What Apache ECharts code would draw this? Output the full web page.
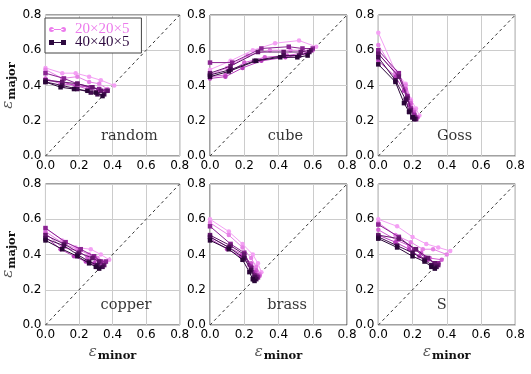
<!DOCTYPE html>
<html><head><meta charset="utf-8">
<script src="https://cdn.jsdelivr.net/npm/echarts@6/dist/echarts.min.js"></script>
<style>html,body{margin:0;padding:0;background:#fff}#c{width:531px;height:374px}</style>
</head><body><div id="c"></div>
<script>
// ---- data ----
const ticks = [0.0, 0.2, 0.4, 0.6, 0.8];
const panels = ['random', 'cube', 'Goss', 'copper', 'brass', 'S'];
const legendNames = ['20×20×5', '40×40×5'];

const random20 = [
  [[0,0.50],[0.10,0.47],[0.18,0.47],[0.26,0.45],[0.33,0.43],[0.41,0.40]],
  [[0,0.49],[0.10,0.44],[0.19,0.45],[0.26,0.42],[0.32,0.41],[0.37,0.38]],
  [[0,0.44],[0.09,0.41],[0.18,0.40],[0.25,0.38],[0.31,0.37],[0.36,0.37]],
  [[0,0.43],[0.10,0.42],[0.18,0.40],[0.27,0.39],[0.32,0.38],[0.37,0.37]]
];
const random40 = [
  [[0,0.47],[0.11,0.44],[0.19,0.41],[0.27,0.39],[0.32,0.38],[0.36,0.37]],
  [[0,0.43],[0.10,0.42],[0.19,0.41],[0.28,0.39],[0.33,0.37],[0.37,0.37]],
  [[0,0.42],[0.10,0.40],[0.19,0.38],[0.27,0.36],[0.31,0.35],[0.35,0.35]],
  [[0,0.42],[0.09,0.39],[0.17,0.38],[0.25,0.37],[0.30,0.36],[0.34,0.34]]
];
const cube20 = [
  [[0,0.49],[0.12,0.54],[0.25,0.60],[0.38,0.64],[0.52,0.655],[0.62,0.62]],
  [[0,0.46],[0.10,0.50],[0.22,0.57],[0.35,0.60],[0.47,0.60],[0.60,0.60]],
  [[0,0.45],[0.09,0.46],[0.20,0.53],[0.32,0.56],[0.45,0.57],[0.58,0.59]],
  [[0,0.44],[0.09,0.45],[0.19,0.50],[0.30,0.54],[0.44,0.56],[0.57,0.58]]
];
const cube40 = [
  [[0,0.53],[0.13,0.53],[0.30,0.61],[0.46,0.62],[0.54,0.61],[0.60,0.61]],
  [[0,0.47],[0.12,0.51],[0.28,0.59],[0.43,0.59],[0.53,0.59],[0.59,0.60]],
  [[0,0.46],[0.12,0.49],[0.26,0.54],[0.43,0.57],[0.52,0.57],[0.58,0.59]],
  [[0,0.45],[0.11,0.48],[0.27,0.54],[0.41,0.56],[0.51,0.56],[0.57,0.57]]
];
const goss20 = [
  [[0,0.70],[0.10,0.48],[0.16,0.41],[0.19,0.32],[0.22,0.27],[0.24,0.23]],
  [[0,0.63],[0.10,0.47],[0.16,0.40],[0.19,0.31],[0.21,0.26],[0.23,0.22]],
  [[0,0.58],[0.11,0.46],[0.16,0.38],[0.19,0.30],[0.21,0.25],[0.23,0.22]],
  [[0,0.54],[0.10,0.45],[0.15,0.37],[0.18,0.29],[0.21,0.24],[0.22,0.22]]
];
const goss40 = [
  [[0,0.60],[0.12,0.47],[0.17,0.34],[0.19,0.27],[0.21,0.23],[0.22,0.21]],
  [[0,0.58],[0.12,0.45],[0.17,0.33],[0.19,0.26],[0.21,0.22],[0.22,0.21]],
  [[0,0.56],[0.10,0.43],[0.16,0.32],[0.18,0.25],[0.20,0.22],[0.21,0.21]],
  [[0,0.52],[0.10,0.42],[0.15,0.30],[0.18,0.25],[0.20,0.22],[0.21,0.21]]
];
const copper20 = [
  [[0,0.55],[0.10,0.48],[0.18,0.44],[0.27,0.43],[0.33,0.40],[0.38,0.37]],
  [[0,0.53],[0.11,0.46],[0.19,0.43],[0.26,0.40],[0.31,0.38],[0.36,0.36]],
  [[0,0.52],[0.10,0.44],[0.20,0.42],[0.25,0.38],[0.30,0.37],[0.35,0.35]],
  [[0,0.50],[0.09,0.43],[0.17,0.39],[0.24,0.36],[0.29,0.35],[0.34,0.34]]
];
const copper40 = [
  [[0,0.55],[0.12,0.47],[0.21,0.43],[0.29,0.39],[0.33,0.36],[0.36,0.36]],
  [[0,0.51],[0.11,0.46],[0.20,0.41],[0.28,0.38],[0.32,0.36],[0.35,0.34]],
  [[0,0.49],[0.11,0.45],[0.19,0.40],[0.26,0.36],[0.31,0.34],[0.34,0.33]],
  [[0,0.48],[0.10,0.43],[0.19,0.39],[0.26,0.35],[0.30,0.33],[0.32,0.32]]
];
const brass20 = [
  [[0,0.60],[0.11,0.53],[0.19,0.46],[0.25,0.40],[0.28,0.35],[0.30,0.30]],
  [[0,0.58],[0.11,0.51],[0.19,0.44],[0.24,0.38],[0.27,0.33],[0.29,0.29]],
  [[0,0.50],[0.11,0.44],[0.19,0.40],[0.24,0.35],[0.27,0.31],[0.29,0.28]],
  [[0,0.49],[0.10,0.43],[0.18,0.39],[0.23,0.34],[0.26,0.30],[0.28,0.28]]
];
const brass40 = [
  [[0,0.56],[0.12,0.46],[0.20,0.41],[0.24,0.33],[0.27,0.28],[0.28,0.27]],
  [[0,0.51],[0.12,0.45],[0.20,0.40],[0.24,0.32],[0.26,0.28],[0.27,0.27]],
  [[0,0.50],[0.11,0.44],[0.20,0.38],[0.24,0.31],[0.26,0.27],[0.27,0.26]],
  [[0,0.48],[0.11,0.43],[0.19,0.37],[0.23,0.30],[0.25,0.26],[0.26,0.25]]
];
const s20 = [
  [[0,0.60],[0.11,0.56],[0.20,0.50],[0.28,0.46],[0.35,0.44],[0.42,0.42]],
  [[0,0.58],[0.10,0.51],[0.19,0.47],[0.26,0.43],[0.32,0.43],[0.40,0.40]],
  [[0,0.54],[0.11,0.48],[0.18,0.45],[0.25,0.41],[0.30,0.38],[0.37,0.37]],
  [[0,0.51],[0.10,0.47],[0.18,0.43],[0.24,0.39],[0.29,0.37],[0.35,0.35]]
];
const s40 = [
  [[0,0.57],[0.12,0.50],[0.21,0.43],[0.28,0.38],[0.33,0.35],[0.35,0.35]],
  [[0,0.51],[0.12,0.49],[0.22,0.43],[0.29,0.38],[0.33,0.35],[0.35,0.34]],
  [[0,0.50],[0.11,0.45],[0.20,0.41],[0.27,0.37],[0.31,0.34],[0.34,0.33]],
  [[0,0.49],[0.11,0.44],[0.20,0.39],[0.27,0.36],[0.31,0.33],[0.33,0.32]]
];
const data20 = [random20, cube20, goss20, copper20, brass20, s20];
const data40 = [random40, cube40, goss40, copper40, brass40, s40];

// ---- styling / layout ----
const colors20 = ['#f4a0f4', '#e682e6', '#d25ed2', '#b83cbc'];
const colors40 = ['#8a2492', '#63166c', '#430c50', '#2a0638'];
const legendColor20 = '#ec7cec';
const legendColor40 = '#2e0a40';
const gridLeft = [42.7, 210, 378.3];
const gridTop = [15, 184];
const gw = 137, gh = 141;
const labelAt = [[0.50,0.11],[0.44,0.11],[0.445,0.11],[0.48,0.11],[0.45,0.11],[0.37,0.11]];

const grids = [], xAxes = [], yAxes = [], series = [];
const nameRich = {
  e: {fontFamily: 'DejaVu Serif', fontStyle: 'italic', fontSize: 15, color: '#555'},
  s: {fontFamily: 'DejaVu Serif', fontWeight: 'bold', fontSize: 11.5, color: '#111', padding: [8, 0, 0, 1]}
};
panels.forEach((p, i) => {
  const col = i % 3, row = Math.floor(i / 3);
  grids.push({left: gridLeft[col], top: gridTop[row], width: gw, height: gh,
    show: true, borderColor: '#444', borderWidth: 1, backgroundColor: 'transparent'});
  const axisCommon = {
    gridIndex: i, type: 'value', min: ticks[0], max: ticks[ticks.length - 1], interval: 0.2,
    axisLine: {show: false}, axisTick: {show: false},
    splitLine: {show: true, lineStyle: {color: '#cccccc', width: 1}},
    axisLabel: {fontFamily: 'DejaVu Sans', fontSize: 12, color: '#000', margin: 4,
      formatter: v => v.toFixed(1), showMinLabel: true, showMaxLabel: true}
  };
  xAxes.push(Object.assign({}, axisCommon, row === 1 ? {
    name: '{e|ε}{s|minor}', nameLocation: 'middle', nameGap: 17,
    nameTextStyle: {rich: nameRich}
  } : {}));
  yAxes.push(Object.assign({}, axisCommon, col === 0 ? {
    name: '{e|ε}{s|major}', nameLocation: 'middle', nameGap: 24, nameRotate: 90,
    nameTextStyle: {rich: nameRich}
  } : {}));
  // diagonal
  series.push({type: 'line', xAxisIndex: i, yAxisIndex: i, data: [[0, 0], [0.8, 0.8]],
    symbol: 'none', silent: true, z: 1,
    lineStyle: {color: '#333', width: 1, type: [3, 3]}});
  data20[i].forEach((line, k) => {
    series.push({type: 'line', name: legendNames[0], xAxisIndex: i, yAxisIndex: i, data: line,
      symbol: 'circle', symbolSize: 4.5, z: 2,
      lineStyle: {color: colors20[k], width: 1}, itemStyle: {color: colors20[k]}});
  });
  data40[i].forEach((line, k) => {
    series.push({type: 'line', name: legendNames[1], xAxisIndex: i, yAxisIndex: i, data: line,
      symbol: 'rect', symbolSize: 4.5, z: 3,
      lineStyle: {color: colors40[k], width: 1}, itemStyle: {color: colors40[k]}});
  });
  series.push({type: 'scatter', xAxisIndex: i, yAxisIndex: i, data: [labelAt[i]],
    symbolSize: 0, silent: true, z: 4,
    label: {show: true, position: 'inside', formatter: p,
      fontFamily: 'DejaVu Serif', fontSize: 14.5, color: '#000'}});
});

const circIcon = 'path://M3,2.5H15V3.5H3Z M0.5,3A2.5,2.5 0 1 0 5.5,3A2.5,2.5 0 1 0 0.5,3Z M12.5,3A2.5,2.5 0 1 0 17.5,3A2.5,2.5 0 1 0 12.5,3Z';
const rectIcon = 'path://M3,2.5H15V3.5H3Z M0.5,0.5H5.5V5.5H0.5Z M12.5,0.5H17.5V5.5H12.5Z';

const option = {
  animation: false,
  backgroundColor: '#fff',
  grid: grids, xAxis: xAxes, yAxis: yAxes, series: series,
  legend: {
    left: 45, top: 18, orient: 'vertical', itemWidth: 17, itemHeight: 5, itemGap: -2,
    padding: [4, 12, 3, 4], borderColor: '#444', borderWidth: 1, backgroundColor: '#fff',
    selectedMode: false, z: 10,
    textStyle: {fontFamily: 'Liberation Serif', fontSize: 15, padding: [0, 0, 0, 4]},
    data: [
      {name: legendNames[0], icon: circIcon, itemStyle: {color: legendColor20}, textStyle: {color: legendColor20}},
      {name: legendNames[1], icon: rectIcon, itemStyle: {color: legendColor40}, textStyle: {color: legendColor40}}
    ]
  }
};
const chart = echarts.init(document.getElementById('c'), null, {renderer: 'canvas'});
chart.setOption(option);
</script></body></html>
